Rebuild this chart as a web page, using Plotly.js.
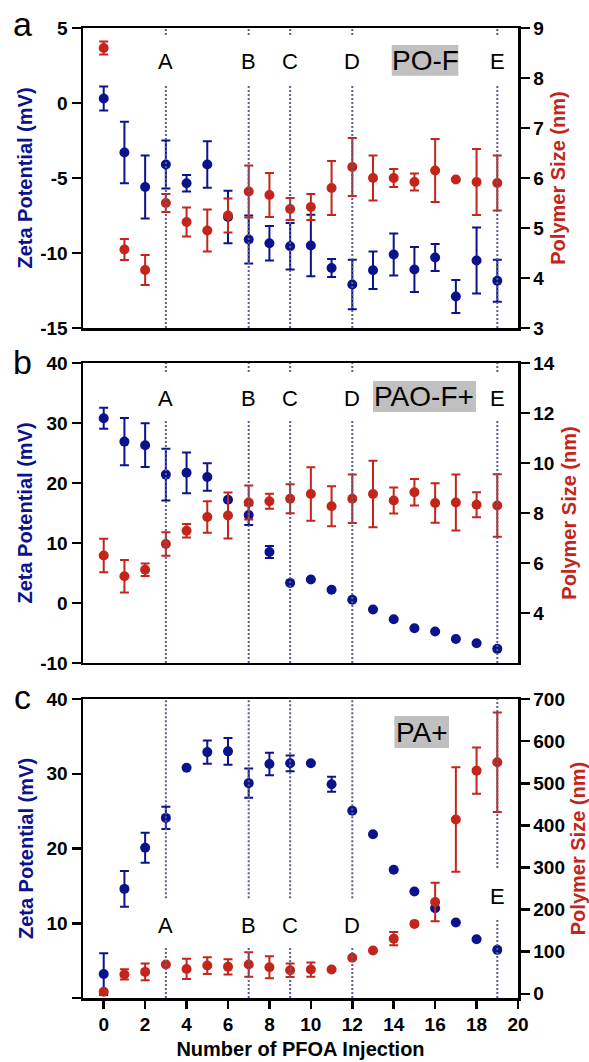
<!DOCTYPE html>
<html><head><meta charset="utf-8">
<script src="https://cdn.plot.ly/plotly-3.0.1.min.js"></script>
<style>html,body{margin:0;padding:0;background:#fff}#chart{width:589px;height:1062px}</style>
</head><body><div id="chart"></div>
<script>
// ---- data ----
const injections = [0,1,2,3,4,5,6,7,8,9,10,11,12,13,14,15,16,17,18,19];

// Panel a : PO-F
const zetaA    = [0.3,-3.3,-5.6,-4.1,-5.35,-4.1,-7.6,-9.1,-9.35,-9.55,-9.5,-11.0,-12.1,-11.15,-10.1,-11.1,-10.3,-12.9,-10.5,-11.85];
const zetaAErr = [0.8,2.05,2.1,1.6,0.55,1.55,1.75,1.6,1.15,1.55,2.05,0.6,1.65,1.25,1.4,1.5,0.9,1.1,2.2,1.4];
const sizeA    = [8.6,4.57,4.16,5.5,5.12,4.95,5.25,5.73,5.66,5.38,5.42,5.8,6.22,6.0,6.0,5.92,6.15,5.97,5.92,5.9];
const sizeAErr = [0.13,0.21,0.3,0.18,0.29,0.42,0.34,0.52,0.44,0.22,0.26,0.54,0.58,0.45,0.18,0.17,0.63,0,0.66,0.55];

// Panel b : PAO-F+
const zetaB    = [30.8,26.9,26.3,21.4,21.7,21.0,17.2,14.65,8.5,3.35,3.9,2.2,0.55,-1.1,-2.7,-4.2,-4.75,-6.0,-6.7,-7.65];
const zetaBErr = [1.75,3.95,3.65,4.3,3.4,2.3,0,1.65,1.0,0,0,0,0,0,0,0,0,0,0,0];
const sizeB    = [6.3,5.47,5.73,6.76,7.29,7.84,7.9,8.42,8.47,8.57,8.76,8.27,8.57,8.76,8.5,8.83,8.4,8.42,8.33,8.3];
const sizeBErr = [0.67,0.65,0.25,0.47,0.27,0.63,0.92,0.68,0.3,0.58,1.07,0.8,0.97,1.33,0.52,0.53,0.79,1.12,0.5,1.25];

// Panel c : PA+
const zetaC    = [3.2,14.6,20.1,24.1,30.8,32.9,33.0,28.75,31.3,31.4,31.4,28.6,25.05,21.9,17.15,14.25,12.0,10.1,7.87,6.44];
const zetaCErr = [2.8,2.4,2.0,1.5,0,1.55,1.8,1.95,1.5,1.05,0,1.0,0,0,0,0,0,0,0,0];
const sizeC    = [5,46,52,69.5,59,67,64,69.5,63,56,57.5,57.7,85.4,102.7,131,166,218,414,530,550];
const sizeCErr = [0,12,20,0,24,20,18,29,26,16,17,0,0,0,16,0,46,124,55,118];

const eventX      = [3,7,9,12,19];
const eventLabels = ['A','B','C','D','E'];
const panelLetters = ['a','b','c'];
const polymerNames = ['PO-F','PAO-F+','PA+'];

const xTicks  = [0,2,4,6,8,10,12,14,16,18,20];
const yTicksA = [-15,-10,-5,0,5],        y2TicksA = [3,4,5,6,7,8,9];
const yTicksB = [-10,0,10,20,30,40],     y2TicksB = [4,6,8,10,12,14];
const yTicksC = [0,10,20,30,40],         y2TicksC = [0,100,200,300,400,500,600,700];

// ---- style ----
const FONT = 'Liberation Sans, Arial, Helvetica, sans-serif';
const BLUE = '#0b138c';
const RED  = '#c4251a';
const LINE_DOT = '#5a5e8c';
const LW = 2.5;
const bold = v => '<b>' + v + '</b>';

function series(x, y, err, color, xa, ya) {
  return {
    type: 'scatter', mode: 'markers', x: x, y: y, xaxis: xa, yaxis: ya,
    marker: {color: color, size: 10},
    error_y: {type: 'data', array: err, visible: true, color: color, thickness: 2, width: 4.5},
    showlegend: false, hoverinfo: 'x+y'
  };
}

const data = [
  series(injections, zetaA, zetaAErr, BLUE, 'x', 'y'),
  series(injections, sizeA, sizeAErr, RED, 'x', 'y2'),
  series(injections, zetaB, zetaBErr, BLUE, 'x2', 'y3'),
  series(injections, sizeB, sizeBErr, RED, 'x2', 'y4'),
  series(injections, zetaC, zetaCErr, BLUE, 'x3', 'y5'),
  series(injections, sizeC, sizeCErr, RED, 'x3', 'y6')
];

const tickFont = {family: FONT, size: 19, color: '#000', weight: 'bold'};
function xAx(anchor, showLabels) {
  const ax = {
    anchor: anchor, domain: [0, 1], range: [-1, 20],
    showline: true, mirror: true, linewidth: LW, linecolor: '#000',
    showgrid: false, zeroline: false, fixedrange: true
  };
  if (showLabels) {
    Object.assign(ax, {ticks: 'outside', ticklen: 8, tickwidth: LW, tickcolor: '#000',
      tickvals: xTicks, ticktext: xTicks.map(bold), tickfont: tickFont, showticklabels: true,
      title: {text: 'Number of PFOA Injection', font: {family: FONT, size: 20, color: '#000', weight: 'bold'}, standoff: 8}});
  } else {
    Object.assign(ax, {ticks: '', showticklabels: false});
  }
  return ax;
}
function yLeft(domain, range, tickvals, ticktext, standoff) {
  return {
    anchor: 'x', domain: domain, range: range, tickvals: tickvals, ticktext: ticktext,
    ticks: 'outside', ticklen: 9, tickwidth: LW, tickcolor: '#000',
    showline: true, linewidth: LW, linecolor: '#000', showgrid: false, zeroline: false,
    tickfont: tickFont, fixedrange: true,
    title: {text: 'Zeta Potential (mV)', font: {family: FONT, size: 20, color: BLUE, weight: 'bold'}, standoff: standoff}
  };
}
function yRight(overlay, range, tickvals, standoff) {
  return {
    overlaying: overlay, side: 'right', range: range, tickvals: tickvals, ticktext: tickvals.map(bold),
    ticks: 'outside', ticklen: 9, tickwidth: LW, tickcolor: '#000',
    showline: true, linewidth: LW, linecolor: '#000', showgrid: false, zeroline: false,
    tickfont: tickFont, fixedrange: true,
    title: {text: 'Polymer Size (nm)', font: {family: FONT, size: 20, color: RED, weight: 'bold'}, standoff: standoff}
  };
}

const domA = [0.6907, 1.0], domB = [0.3454, 0.6546], domC = [0, 0.3082];

const layout = {
  width: 589, height: 1062,
  margin: {l: 83, r: 71, t: 28, b: 64},
  paper_bgcolor: '#fff', plot_bgcolor: '#fff',
  font: {family: FONT, color: '#000'},
  showlegend: false,
  xaxis: xAx('y', false),
  xaxis2: xAx('y3', false),
  xaxis3: xAx('y5', true),
  yaxis:  yLeft(domA, [-15, 5], yTicksA, yTicksA.map(bold), 2),
  yaxis2: Object.assign(yRight('y', [3, 9], y2TicksA, 8), {anchor: 'x'}),
  yaxis3: Object.assign(yLeft(domB, [-10, 40], yTicksB, yTicksB.map(bold), 2), {anchor: 'x2'}),
  yaxis4: Object.assign(yRight('y3', [2, 14], y2TicksB, 8), {anchor: 'x2'}),
  yaxis5: Object.assign(yLeft(domC, [0, 40], yTicksC, yTicksC.map(v => v === 0 ? '' : bold(v)), 8), {anchor: 'x3'}),
  yaxis6: Object.assign(yRight('y5', [-10, 700], y2TicksC, 8), {anchor: 'x3'}),
  shapes: [],
  annotations: []
};

// event (dotted) lines with gaps for labels
const panels = [
  {xref: 'x',  yref: 'y domain',  segs: [[0, 0.81],[0.977, 1]], labelY: 0.89},
  {xref: 'x2', yref: 'y3 domain', segs: [[0, 0.81],[0.97, 1]],  labelY: 0.883},
  {xref: 'x3', yref: 'y5 domain', segs: [[0, 0.171],[0.334, 1]], labelY: 0.244,
   segsE: [[0, 0.268],[0.435, 1]], labelYE: 0.338}
];
panels.forEach(p => {
  eventX.forEach((ex, i) => {
    const isE = eventLabels[i] === 'E' && p.segsE;
    const segs = isE ? p.segsE : p.segs;
    segs.forEach(s => layout.shapes.push({
      type: 'line', xref: p.xref, yref: p.yref, x0: ex, x1: ex, y0: s[0], y1: s[1],
      line: {color: LINE_DOT, width: 2, dash: '2px,2px'}, layer: 'above'
    }));
    layout.annotations.push({
      xref: p.xref, yref: p.yref, x: ex, y: isE ? p.labelYE : p.labelY,
      text: eventLabels[i], showarrow: false, xanchor: 'center', yanchor: 'middle',
      font: {family: FONT, size: 22, color: '#000'}
    });
  });
});

// grey name boxes
const boxes = [
  {x0: 0.7097, x1: 0.8628, y0: 0.9508, y1: 0.9825},
  {x0: 0.6667, x1: 0.9034, y0: 0.6041, y1: 0.6361},
  {x0: 0.7159, x1: 0.8414, y0: 0.2577, y1: 0.2907}
];
boxes.forEach((b, i) => {
  layout.shapes.push({type: 'rect', xref: 'paper', yref: 'paper', x0: b.x0, x1: b.x1, y0: b.y0, y1: b.y1,
    fillcolor: '#c0c0c0', line: {width: 0}, layer: 'below'});
  layout.annotations.push({xref: 'paper', yref: 'paper', x: (b.x0 + b.x1) / 2, y: (b.y0 + b.y1) / 2,
    text: polymerNames[i], showarrow: false, xanchor: 'center', yanchor: 'middle',
    font: {family: FONT, size: 28, color: '#000'}});
});

// panel letters
const letterY = [1.0041, 0.6557, 0.3103];
panelLetters.forEach((t, i) => layout.annotations.push({
  xref: 'paper', yref: 'paper', x: -0.138, y: letterY[i], text: t, showarrow: false,
  xanchor: 'center', yanchor: 'middle', font: {family: FONT, size: 34, color: '#000'}
}));

Plotly.newPlot('chart', data, layout, {staticPlot: true, displayModeBar: false});
</script>
</body></html>
